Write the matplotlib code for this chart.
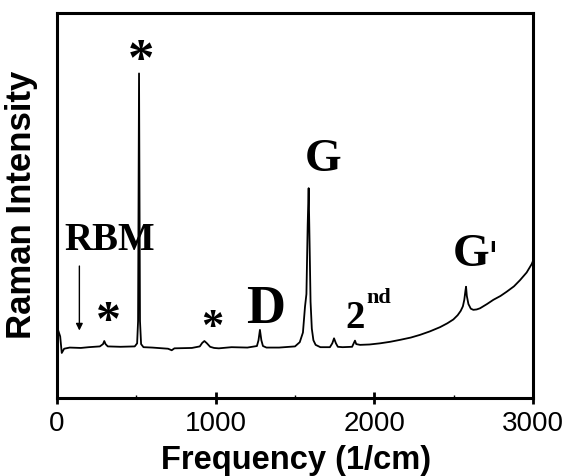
import matplotlib
matplotlib.use('Agg')
import matplotlib.pyplot as plt

# Raman spectrum (intensity in arbitrary units, 0..100 axis)
freq = [8, 20, 30, 45, 80, 150, 200, 270, 290, 298, 306, 320, 400, 490, 505,
        511, 517, 523, 530, 545, 600, 700, 723, 740, 850, 900, 915, 929, 945,
        965, 990, 1020, 1100, 1200, 1260, 1270, 1279, 1288, 1298, 1320, 1400,
        1500, 1530, 1550, 1563, 1572, 1580, 1586, 1592, 1598, 1606, 1616, 1630,
        1660, 1720, 1735, 1746, 1758, 1770, 1800, 1860, 1870, 1878, 1886, 1910,
        1970, 2036, 2100, 2162, 2230, 2288, 2350, 2414, 2460, 2498, 2525, 2544,
        2558, 2567, 2574, 2578, 2583, 2593, 2608, 2624, 2645, 2666, 2710, 2750,
        2795, 2834, 2880, 2918, 2960, 2992, 3000]
intensity = [17.5, 16.0, 11.7, 12.8, 13.1, 13.0, 13.2, 13.4, 14.0, 14.8, 14.0,
             13.4, 13.3, 13.4, 14.2, 20.0, 84.3, 20.0, 14.0, 13.2, 13.1, 12.8,
             12.4, 12.9, 13.0, 13.4, 14.3, 14.8, 14.2, 13.3, 13.0, 12.9, 13.2,
             13.1, 13.5, 15.0, 17.7, 15.0, 13.5, 13.1, 13.1, 13.4, 14.5, 17.0,
             23.7, 27.0, 45.0, 54.5, 40.0, 25.0, 18.0, 15.0, 13.8, 13.2, 13.2,
             14.2, 15.5, 14.2, 13.3, 13.2, 13.3, 14.2, 14.9, 14.0, 13.8,
             13.9, 14.2, 14.6, 15.1, 15.7, 16.4, 17.3, 18.4, 19.4, 20.4, 21.5, 22.6,
             23.8, 25.5, 27.8, 28.9, 26.5, 24.4, 23.2, 22.9, 23.0, 23.3, 24.4, 25.5,
             26.5, 27.6, 29.0, 30.6, 32.6, 34.8, 35.6]

# peak labels: (text, freq, baseline y, fontsize)
labels = [('*', 530, 84.0, 38), ('*', 326, 16.3, 36), ('*', 981, 15.4, 32),
          ('RBM', 334, 38.4, 28), ('D', 1317, 19.4, 39), ('G', 1679, 59.0, 34),
          ('G', 2607, 34.3, 34), ('2', 1878, 18.1, 28)]
tick_pos = [0, 1000, 2000, 3000]

fig = plt.figure(figsize=(5.68, 4.76), dpi=100)
ax = fig.add_axes([57/568, 1 - 398/476, (533 - 57)/568, (398 - 13)/476])

ax.plot(freq, intensity, color='black', lw=1.3)
ax.set_xlim(0, 3000)
ax.set_ylim(0, 100)

serif = dict(family='Liberation Serif', weight='bold', ha='center', va='baseline')
for txt, x, y, fs in labels:
    ax.text(x, y, txt, fontsize=fs, **serif)
ax.text(1952, 24.6, 'nd', fontsize=16, family='Liberation Serif', weight='bold',
        ha='left', va='baseline')
ax.text(2748, 33.2, "'", fontsize=28, family='DejaVu Sans', ha='center', va='baseline')

# RBM arrow
ax.annotate('', xy=(141, 16.8), xytext=(141, 35.0),
            arrowprops=dict(arrowstyle='-|>', color='black', lw=1, mutation_scale=10))

ax.set_xticks(tick_pos)
ax.set_xticklabels([str(t) for t in tick_pos], fontsize=20, family='Liberation Sans')
ax.set_xticks([500, 1500, 2500], minor=True)
ax.tick_params(axis='x', which='major', direction='inout', length=9, width=2, pad=5)
ax.tick_params(axis='x', which='minor', direction='in', length=2, width=1)
ax.set_yticks([])
for s in ax.spines.values():
    s.set_linewidth(2.2)

fig.text(22/568, 1 - 205/476, 'Raman Intensity', rotation=90, fontsize=25,
         family='Liberation Sans', weight='bold', ha='center', va='center')
fig.text(296/568, 0, 'Frequency (1/cm)', fontsize=23.5,
         family='Liberation Sans', weight='bold', ha='center', va='bottom')

fig.savefig('out.png', dpi=100)
